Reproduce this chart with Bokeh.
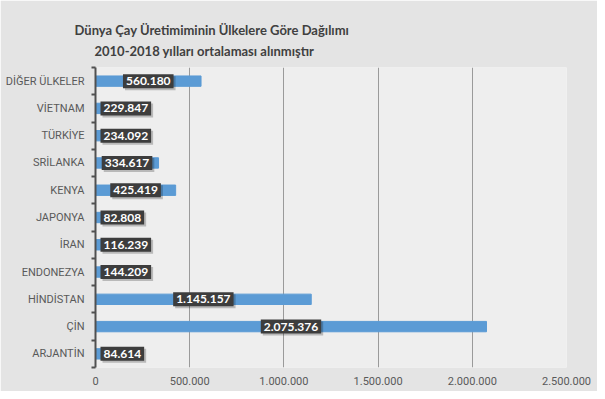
from bokeh.plotting import figure
from bokeh.models import ColumnDataSource, Title, FixedTicker
from bokeh.core.properties import value
from bokeh.embed import file_html
from bokeh.resources import INLINE

countries = ["ARJANTİN", "ÇİN", "HİNDİSTAN", "ENDONEZYA", "İRAN", "JAPONYA",
             "KENYA", "SRİLANKA", "TÜRKİYE", "VİETNAM", "DİĞER ÜLKELER"]
production = [84614, 2075376, 1145157, 144209, 116239, 82808,
              425419, 334617, 234092, 229847, 560180]
x_ticks = [0, 500000, 1000000, 1500000, 2000000, 2500000]
title_lines = ["Dünya Çay Üretimiminin Ülkelere Göre Dağılımı",
               "2010-2018  yılları ortalaması  alınmıştır"]


def tr(n):
    return f"{n:,}".replace(",", ".")


n = len(countries)
ys = [i + 0.5 for i in range(n)]
bounds = [float(i) for i in range(n + 1)]

src = ColumnDataSource(dict(y=ys, v=production, name=countries))

big = [i for i, v in enumerate(production) if v >= 300000]
small = [i for i, v in enumerate(production) if v < 300000]
src_big = ColumnDataSource(dict(x=[production[i] / 2 for i in big],
                                y=[ys[i] for i in big],
                                t=[tr(production[i]) for i in big]))
src_small = ColumnDataSource(dict(x=[0 for i in small],
                                  y=[ys[i] for i in small],
                                  t=[tr(production[i]) for i in small]))

p = figure(width=597, height=391, output_backend="svg", toolbar_location=None,
           x_range=(0, 2500000), y_range=(0, n), title=None,
           min_border_left=95, min_border_right=31, min_border_top=67, min_border_bottom=24)
p.background_fill_color = "#eeeeee"
p.border_fill_color = "#e4e4e4"
p.outline_line_color = None

p.hbar(y="y", right="v", left=0, height=0.38, source=src, color="#5B9BD5")

# x axis
p.xaxis.ticker = FixedTicker(ticks=x_ticks)
p.xaxis.major_label_overrides = {t: tr(t) for t in x_ticks}
p.xaxis.axis_line_color = None
p.xaxis.major_tick_line_color = None
p.xaxis.minor_tick_line_color = None
p.xaxis.major_tick_out = 0
p.xaxis.major_tick_in = 0
p.xaxis.major_label_text_color = "#595959"
p.xaxis.major_label_text_font = "Roboto"
p.xaxis.major_label_text_font_size = "11px"
p.xaxis.major_label_standoff = 9
p.xgrid.ticker = FixedTicker(ticks=x_ticks)
p.xgrid.grid_line_color = "#9a9a9a"
p.ygrid.grid_line_color = None

# y axis
p.yaxis.ticker = FixedTicker(ticks=ys, minor_ticks=bounds)
p.yaxis.major_label_overrides = {y: c for y, c in zip(ys, countries)}
p.yaxis.axis_line_color = "#505050"
p.yaxis.axis_line_width = 2
p.yaxis.major_tick_line_color = None
p.yaxis.major_tick_out = 0
p.yaxis.major_tick_in = 0
p.yaxis.minor_tick_line_color = "#505050"
p.yaxis.minor_tick_line_width = 2
p.yaxis.minor_tick_out = 4
p.yaxis.minor_tick_in = 0
p.yaxis.major_label_text_color = "#595959"
p.yaxis.major_label_text_font = "Roboto"
p.yaxis.major_label_text_font_size = "11px"
p.yaxis.major_label_standoff = 7

common = dict(x="x", y="y", text="t", text_baseline="middle",
              text_font=value("Lato"), text_font_style="bold", text_font_size="12px",
              padding=3)

for s, align, xoff in [(src_big, "center", 0), (src_small, "left", 5)]:
    p.text(source=s, text_align=align, x_offset=xoff + 2, y_offset=2,
           text_alpha=0, background_fill_color="black",
           background_fill_alpha=0.22, **common)
    p.text(source=s, text_align=align, x_offset=xoff,
           text_color="white", background_fill_color="#3d3d3d",
           background_fill_alpha=1.0, **common)

# subtitle first (nearest to plot), then main title above it
p.add_layout(Title(text=title_lines[1], align="left", offset=-1, standoff=17,
                   text_font="Lato", text_font_style="bold", text_font_size="13px",
                   text_color="#404040"), "above")
p.add_layout(Title(text=title_lines[0], align="left", offset=-21, standoff=-10,
                   text_font="Lato", text_font_style="bold", text_font_size="13px",
                   text_color="#404040"), "above")

open("out.html", "w").write(file_html(p, INLINE))
